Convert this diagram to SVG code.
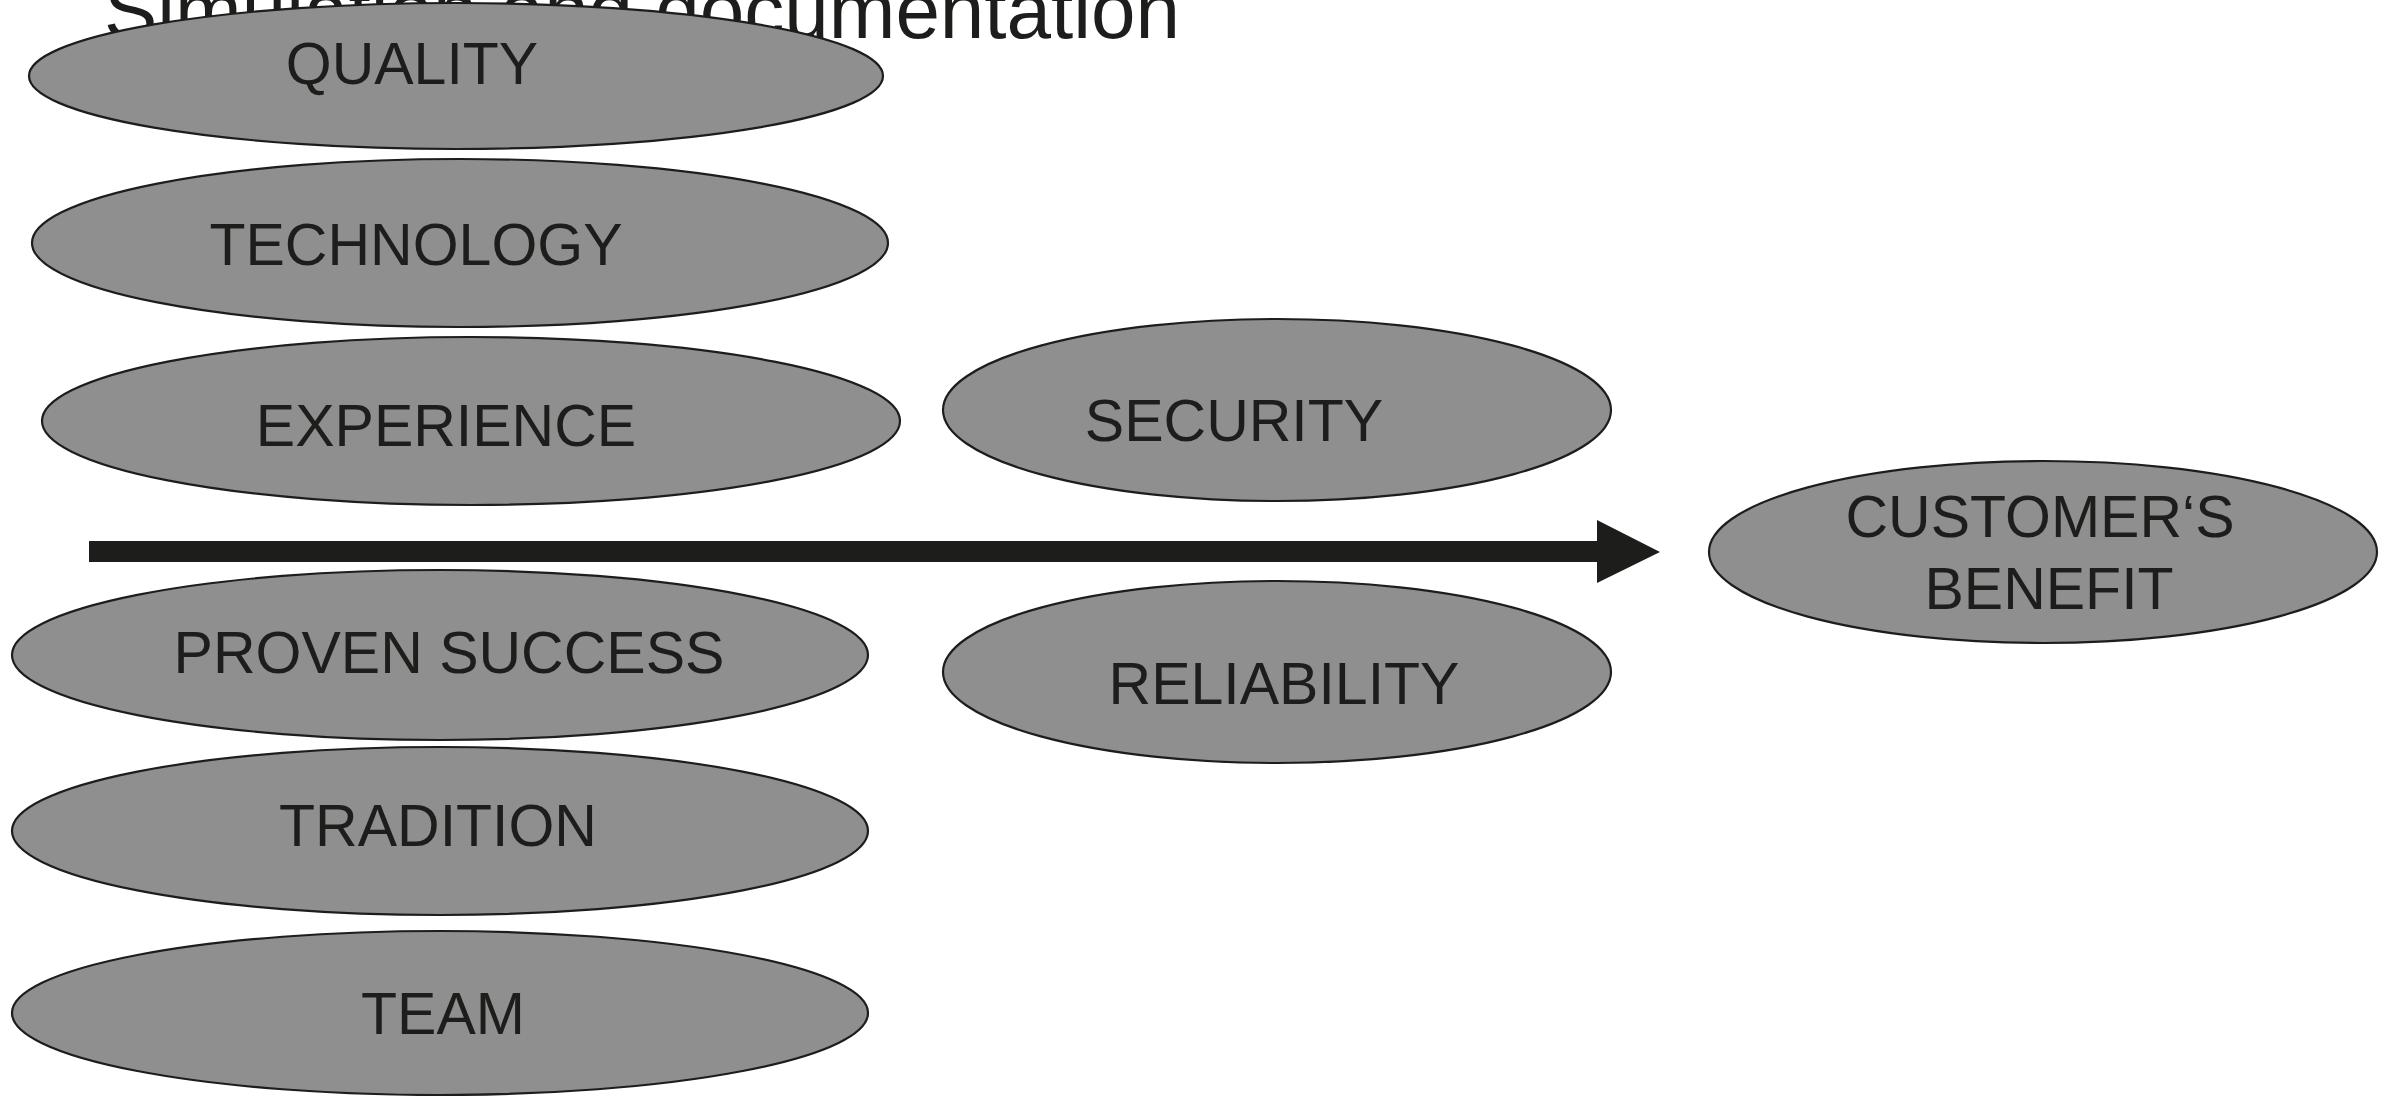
<svg xmlns="http://www.w3.org/2000/svg" width="2392" height="1096" viewBox="0 0 2392 1096">
<style>
.bg{fill:#ffffff}
.node ellipse{fill:#8f8f8f;stroke:#1d1d1b;stroke-width:2.2}
.node text{font-family:"Liberation Sans",Arial,sans-serif;font-size:59px;fill:#1d1d1b;text-anchor:middle}
.title{font-family:"Liberation Sans",Arial,sans-serif;font-size:80px;fill:#1d1d1b}
.conn{fill:#1d1d1b;stroke:none}
</style>
<rect class="bg" x="0" y="0" width="2392" height="1096"/>
<text class="title" x="104" y="38" textLength="1076" lengthAdjust="spacingAndGlyphs">Simulation and documentation</text>
<g id="connectors">
<path class="conn" d="M89,541 L1597,541 L1597,520 L1660,552 L1597,583 L1597,562 L89,562 Z"/>
</g>
<g id="quality" class="node"><ellipse cx="456" cy="76" rx="427" ry="73"/><text x="412" y="84">QUALITY</text></g>
<g id="technology" class="node"><ellipse cx="460" cy="243" rx="428" ry="84"/><text x="416" y="265">TECHNOLOGY</text></g>
<g id="experience" class="node"><ellipse cx="471" cy="421" rx="429" ry="84"/><text x="446" y="446">EXPERIENCE</text></g>
<g id="security" class="node"><ellipse cx="1277" cy="410" rx="334" ry="91"/><text x="1234" y="441">SECURITY</text></g>
<g id="customers-benefit" class="node"><ellipse cx="2043" cy="552" rx="334" ry="91"/><text x="2040" y="537">CUSTOMER‘S</text><text x="2049" y="609">BENEFIT</text></g>
<g id="proven-success" class="node"><ellipse cx="440" cy="655" rx="428" ry="85"/><text x="449" y="673">PROVEN SUCCESS</text></g>
<g id="reliability" class="node"><ellipse cx="1277" cy="672" rx="334" ry="91"/><text x="1284" y="704">RELIABILITY</text></g>
<g id="tradition" class="node"><ellipse cx="440" cy="831" rx="428" ry="84"/><text x="438" y="846">TRADITION</text></g>
<g id="team" class="node"><ellipse cx="440" cy="1013" rx="428" ry="82"/><text x="443" y="1034">TEAM</text></g>
</svg>
